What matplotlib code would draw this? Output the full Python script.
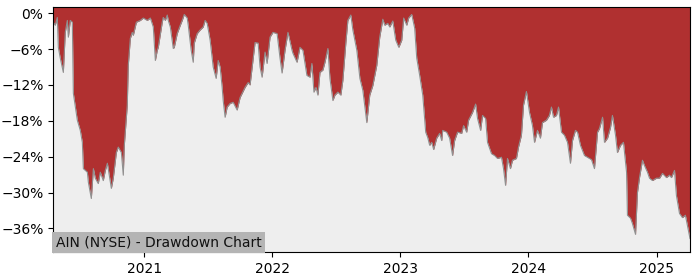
import matplotlib
matplotlib.use('Agg')
import matplotlib.pyplot as plt
import matplotlib.ticker as mtick
import pandas as pd

# decimal year of each reading, and drawdown in percent
years = [2020.290, 2020.306, 2020.322, 2020.330, 2020.345, 2020.369, 2020.384, 2020.400,
         2020.408, 2020.423, 2020.439, 2020.447, 2020.478, 2020.501, 2020.517, 2020.525,
         2020.556, 2020.564, 2020.587, 2020.603, 2020.618, 2020.641, 2020.657, 2020.680,
         2020.696, 2020.712, 2020.743, 2020.758, 2020.782, 2020.797, 2020.821, 2020.836,
         2020.844, 2020.867, 2020.875, 2020.891, 2020.906, 2020.914, 2020.938, 2020.969,
         2020.992, 2021.023, 2021.047, 2021.070, 2021.086, 2021.101, 2021.109, 2021.140,
         2021.148, 2021.164, 2021.179, 2021.187, 2021.203, 2021.226, 2021.234, 2021.257,
         2021.281, 2021.296, 2021.312, 2021.335, 2021.343, 2021.366, 2021.382, 2021.390,
         2021.413, 2021.436, 2021.460, 2021.475, 2021.491, 2021.514, 2021.538, 2021.561,
         2021.577, 2021.592, 2021.608, 2021.616, 2021.631, 2021.647, 2021.670, 2021.694,
         2021.725, 2021.748, 2021.787, 2021.811, 2021.826, 2021.865, 2021.889, 2021.904,
         2021.920, 2021.943, 2021.959, 2021.982, 2022.005, 2022.037, 2022.060, 2022.076,
         2022.099, 2022.122, 2022.154, 2022.161, 2022.193, 2022.216, 2022.239, 2022.270,
         2022.294, 2022.309, 2022.325, 2022.341, 2022.356, 2022.372, 2022.395, 2022.411,
         2022.434, 2022.450, 2022.473, 2022.489, 2022.512, 2022.535, 2022.551, 2022.574,
         2022.590, 2022.613, 2022.629, 2022.660, 2022.684, 2022.707, 2022.738, 2022.761,
         2022.785, 2022.816, 2022.839, 2022.863, 2022.878, 2022.902, 2022.917, 2022.941,
         2022.964, 2022.988, 2023.011, 2023.026, 2023.050, 2023.065, 2023.089, 2023.112,
         2023.128, 2023.151, 2023.175, 2023.198, 2023.214, 2023.229, 2023.245, 2023.260,
         2023.284, 2023.307, 2023.323, 2023.331, 2023.362, 2023.385, 2023.408, 2023.424,
         2023.447, 2023.479, 2023.494, 2023.518, 2023.533, 2023.564, 2023.588, 2023.603,
         2023.627, 2023.642, 2023.666, 2023.681, 2023.712, 2023.736, 2023.759, 2023.790,
         2023.806, 2023.822, 2023.837, 2023.860, 2023.876, 2023.907, 2023.923, 2023.946,
         2023.962, 2023.985, 2024.009, 2024.032, 2024.048, 2024.071, 2024.094, 2024.110,
         2024.141, 2024.164, 2024.180, 2024.196, 2024.219, 2024.235, 2024.258, 2024.281,
         2024.305, 2024.328, 2024.344, 2024.367, 2024.383, 2024.406, 2024.437, 2024.461,
         2024.492, 2024.515, 2024.539, 2024.554, 2024.578, 2024.593, 2024.617, 2024.640,
         2024.655, 2024.679, 2024.694, 2024.718, 2024.741, 2024.765, 2024.772, 2024.796,
         2024.811, 2024.835, 2024.850, 2024.866, 2024.889, 2024.905, 2024.928, 2024.944,
         2024.967, 2024.998, 2025.022, 2025.045, 2025.076, 2025.100, 2025.115, 2025.139,
         2025.154, 2025.178, 2025.201, 2025.224, 2025.240, 2025.260]
drawdown = [-1.5, -2.0, -0.7, -5.7, -7.5, -9.9, -3.2, -1.2,
            -4.0, -1.2, -1.5, -13.4, -17.9, -19.6, -21.6, -26.0,
            -26.6, -28.3, -31.0, -26.0, -27.6, -28.5, -26.6, -28.0,
            -26.3, -25.1, -29.3, -27.6, -23.3, -22.4, -23.3, -27.1,
            -22.1, -15.4, -8.7, -4.2, -3.2, -3.7, -1.5, -1.2,
            -0.8, -1.2, -0.8, -2.3, -7.9, -6.2, -5.7, -1.5,
            -0.7, -1.2, -0.3, -1.2, -2.3, -5.9, -5.7, -3.4,
            -2.0, -1.2, -0.2, -0.8, -2.0, -6.2, -8.2, -5.0,
            -3.4, -2.8, -2.3, -1.2, -1.7, -4.5, -9.0, -10.9,
            -7.9, -9.0, -12.4, -14.6, -17.4, -15.7, -15.1, -14.9,
            -16.2, -14.1, -12.4, -11.6, -12.0, -4.9, -5.0, -9.0,
            -10.7, -6.5, -8.4, -4.0, -3.2, -3.4, -7.5, -10.0,
            -6.2, -3.2, -6.2, -6.7, -8.2, -5.7, -6.2, -10.4,
            -10.7, -8.4, -13.2, -12.4, -13.7, -9.9, -9.5, -8.2,
            -5.9, -10.9, -14.6, -13.7, -13.2, -13.7, -11.2, -5.0,
            -1.2, -0.3, -2.8, -6.2, -10.9, -12.9, -18.3, -13.7,
            -12.1, -8.7, -4.0, -1.0, -2.0, -1.7, -2.3, -1.3,
            -4.5, -5.7, -4.5, -0.8, -2.0, -0.8, -0.2, -2.5,
            -7.5, -10.4, -13.7, -19.9, -20.8, -22.1, -21.6, -22.8,
            -20.9, -20.1, -21.3, -19.6, -19.9, -20.9, -23.8, -21.3,
            -19.9, -20.1, -18.8, -19.9, -17.9, -16.6, -15.2, -17.6,
            -19.6, -17.1, -17.6, -21.6, -23.5, -23.8, -24.3, -24.1,
            -26.0, -28.8, -24.3, -26.0, -24.6, -24.3, -22.4, -20.4,
            -15.4, -13.1, -16.6, -18.8, -21.6, -19.6, -20.9, -18.3,
            -17.9, -17.1, -15.7, -17.4, -17.1, -15.7, -19.9, -20.4,
            -21.6, -25.1, -21.3, -19.6, -19.9, -22.1, -23.8, -24.1,
            -24.5, -26.0, -19.9, -19.3, -17.4, -21.6, -20.9, -19.1,
            -17.1, -20.4, -23.3, -22.1, -21.6, -26.6, -33.8, -34.3,
            -35.2, -37.0, -30.0, -27.5, -24.6, -25.5, -26.6, -27.6,
            -28.0, -27.6, -27.6, -26.8, -27.5, -27.1, -27.5, -26.3,
            -30.5, -33.5, -34.2, -33.8, -35.5, -37.7]
ytick_vals = [0, -6, -12, -18, -24, -30, -36]
title = 'AIN (NYSE) - Drawdown Chart'


def year_to_date(y):
    start = pd.Timestamp(int(y), 1, 1)
    end = pd.Timestamp(int(y) + 1, 1, 1)
    return start + (end - start) * (y - int(y))


dates = [year_to_date(y) for y in years]

fig = plt.figure(figsize=(7, 2.8), dpi=100)
ax = fig.add_axes([0.076, 0.099, 0.9097, 0.875])

ax.set_facecolor('#b03030')
ax.fill_between(dates, drawdown, -40, color='#eeeeee', lw=0)
ax.plot(dates, drawdown, color='#909090', lw=0.8)

ax.set_xlim(dates[0], dates[-1])
ax.set_ylim(-40, 1)
ax.set_yticks(ytick_vals)
ax.yaxis.set_major_formatter(mtick.PercentFormatter(decimals=0))
ax.xaxis.set_major_locator(matplotlib.dates.YearLocator())
ax.xaxis.set_major_formatter(matplotlib.dates.DateFormatter('%Y'))
ax.tick_params(labelsize=10)

ax.text(0.004, 0.012, title, transform=ax.transAxes, ha='left', va='bottom',
        fontsize=10, color='#111111',
        bbox=dict(facecolor='#b4b4b4', edgecolor='none', pad=2.5))

fig.savefig('out.png', dpi=100)
